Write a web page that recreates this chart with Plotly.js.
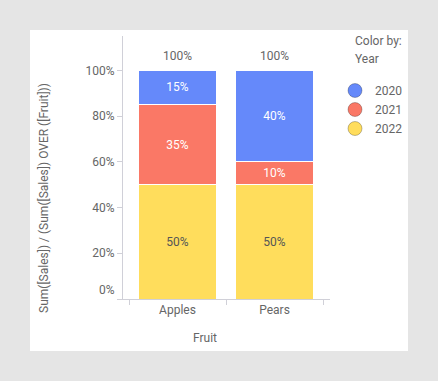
<!DOCTYPE html>
<html>
<head>
<meta charset="utf-8">
<script src="https://cdn.plot.ly/plotly-3.0.1.min.js"></script>
<style>
html,body{margin:0;padding:0;background:#e5e5e5;width:438px;height:381px;overflow:hidden;}
#chart{position:absolute;left:30px;top:30px;width:378px;height:321px;background:#fff;}
</style>
</head>
<body>
<div id="chart"></div>
<script>
var fruits = ["Apples", "Pears"];
var years = ["2020", "2021", "2022"];
var share2020 = [15, 40];
var share2021 = [35, 10];
var share2022 = [50, 50];
var yTickVals = [0, 20, 40, 60, 80, 100];
var yTickText = ["", "20%", "40%", "60%", "80%", "100%"];

var colors = {"2020": "#6589fa", "2021": "#fa7866", "2022": "#ffdd5c"};
var textColors = {"2020": "#ffffff", "2021": "#ffffff", "2022": "#555555"};
var seriesByYear = {"2020": share2020, "2021": share2021, "2022": share2022};
var stackOrder = ["2022", "2021", "2020"];

var font = "Roboto, 'Open Sans', sans-serif";
var grey = "#666666";
var traces = [];
stackOrder.forEach(function (yr) {
  traces.push({
    type: "bar", x: fruits, y: seriesByYear[yr], name: yr,
    marker: {color: colors[yr], line: {color: "#ffffff", width: 1}},
    width: 0.8,
    text: seriesByYear[yr].map(function (v) { return v + "%"; }),
    textposition: "inside", insidetextanchor: "middle",
    textfont: {family: font, size: 12, color: textColors[yr]},
    hoverinfo: "skip", showlegend: false
  });
});
years.forEach(function (yr) {
  traces.push({
    type: "scatter", mode: "markers", x: [null], y: [null], name: yr,
    marker: {symbol: "circle", size: 14, color: colors[yr], line: {color: "rgba(0,0,0,0.25)", width: 1}},
    showlegend: true, hoverinfo: "skip"
  });
});

var totals = fruits.map(function (f, i) { return share2020[i] + share2021[i] + share2022[i]; });
var annotations = fruits.map(function (f, i) {
  return {x: f, y: totals[i], xref: "x", yref: "y", text: totals[i] + "%", showarrow: false,
          yanchor: "bottom", yshift: 5, font: {family: font, size: 12, color: grey}};
});
annotations.push({x: 0, y: 0, xref: "paper", yref: "y", text: "0%", showarrow: false,
  xanchor: "right", xshift: -6, yshift: 9, font: {family: font, size: 12, color: grey}});
annotations.push({x: -0.382, y: 0.384, xref: "paper", yref: "paper", textangle: -90,
  text: "Sum([Sales]) / (Sum([Sales]) OVER ([Fruit]))", showarrow: false,
  xanchor: "center", yanchor: "middle", font: {family: font, size: 12, color: grey}});
annotations.push({x: 0.396, y: -0.148, xref: "paper", yref: "paper", text: "Fruit", showarrow: false,
  xanchor: "center", yanchor: "middle", font: {family: font, size: 12, color: grey}});
annotations.push({x: 1.111, y: 0.981, xref: "paper", yref: "paper", text: "Color by:",
  showarrow: false, xanchor: "left", yanchor: "middle", font: {family: font, size: 12, color: grey}});
annotations.push({x: 1.111, y: 0.9125, xref: "paper", yref: "paper", text: "Year",
  showarrow: false, xanchor: "left", yanchor: "middle", font: {family: font, size: 12, color: grey}});

var layout = {
  width: 378, height: 321,
  margin: {l: 93, r: 78, t: 6, b: 52},
  paper_bgcolor: "#ffffff", plot_bgcolor: "#ffffff",
  barmode: "stack", bargap: 0.2,
  font: {family: font, size: 12, color: grey},
  xaxis: {type: "category", range: [-0.562, 1.572], tickson: "boundaries",
          ticks: "outside", ticklen: 5, tickcolor: "#d0d0d8", showline: true, linecolor: "#d0d0d8",
          showgrid: false, zeroline: false, fixedrange: true, automargin: false,
          tickfont: {family: font, size: 12, color: grey}},
  yaxis: {range: [0, 115], tickvals: yTickVals, ticktext: yTickText,
          ticks: "outside", ticklen: 5, tickcolor: "#d0d0d8", showline: true, linecolor: "#d0d0d8",
          showgrid: false, zeroline: false, fixedrange: true, automargin: false,
          tickfont: {family: font, size: 12, color: grey}},
  legend: {xref: "container", yref: "container", x: 305 / 378, y: 1 - 46 / 321,
           xanchor: "left", yanchor: "top", traceorder: "normal",
           font: {family: font, size: 12, color: grey}, itemwidth: 30, bgcolor: "rgba(0,0,0,0)"},
  annotations: annotations,
  showlegend: true
};

Plotly.newPlot("chart", traces, layout, {displayModeBar: false, staticPlot: true});
</script>
</body>
</html>
